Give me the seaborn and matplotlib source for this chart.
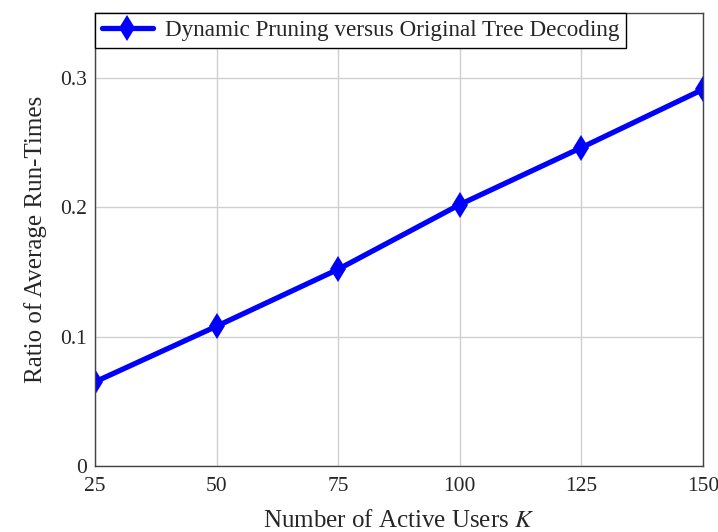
import matplotlib
matplotlib.use("Agg")
import matplotlib.pyplot as plt
import seaborn as sns
import pandas as pd

# Average run-time ratio: dynamic pruning vs. original tree decoding
users_k = [25, 50, 75, 100, 125, 150]
runtime_ratio = [0.065, 0.108, 0.152, 0.202, 0.246, 0.291]
x_ticks = [25, 50, 75, 100, 125, 150]
y_ticks = [0, 0.1, 0.2, 0.3]
y_tick_labels = ["0", "0.1", "0.2", "0.3"]
series_label = "Dynamic Pruning versus Original Tree Decoding"

df = pd.DataFrame({"K": users_k, "ratio": runtime_ratio})

sns.set_style("whitegrid")
plt.rcParams["font.family"] = ["Liberation Serif", "DejaVu Serif"]
plt.rcParams["mathtext.fontset"] = "stix"

fig = plt.figure(figsize=(7.18, 5.32), dpi=100)
ax = fig.add_axes([95 / 718, 1 - 466 / 532, 608 / 718, 453 / 532])

sns.lineplot(data=df, x="K", y="ratio", ax=ax, color="#0000ff", linewidth=3.8,
             marker="d", markersize=13, markeredgewidth=0, label=series_label)

ax.set_xlim(25, 150)
ax.set_ylim(0, 0.35)
ax.set_xticks(x_ticks)
ax.set_yticks(y_ticks)
ax.set_yticklabels(y_tick_labels)
ax.tick_params(axis="both", which="major", labelsize=15.5, direction="in",
               length=6, color="#999999", pad=6)
ax.tick_params(axis="x", pad=8)
ax.grid(True, color="#d0d0d0", linewidth=1.0)
for side in ax.spines.values():
    side.set_color("#444444")
    side.set_linewidth(1.0)

ax.set_xlabel("Number of Active Users $K$", fontsize=18, labelpad=10)
ax.set_ylabel("Ratio of Average Run-Times", fontsize=18, labelpad=9)

leg = ax.legend(loc="upper left", borderaxespad=0, fontsize=16.7, frameon=True,
                fancybox=False, handlelength=2.2, handletextpad=0.5,
                borderpad=0.3)
leg.get_frame().set_edgecolor("black")
leg.get_frame().set_linewidth(1.0)
leg.get_frame().set_alpha(1.0)

fig.savefig("out.png", dpi=100)
